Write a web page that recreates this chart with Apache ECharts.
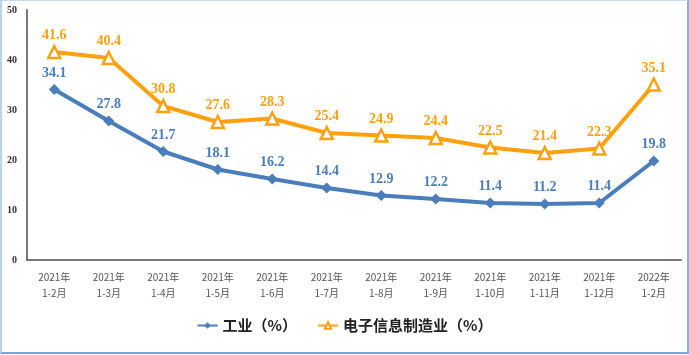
<!DOCTYPE html>
<html><head><meta charset="utf-8">
<script src="https://cdn.jsdelivr.net/npm/echarts@6/dist/echarts.min.js"></script>
<style>
html,body{margin:0;padding:0;background:#fff;}
#frame{position:absolute;left:0;top:0;width:685px;height:351px;border-left:2px solid #bcd3ee;border-top:1px solid #c5d9f1;border-right:2px solid #8eaedb;border-bottom:2px solid #7fa3d6;}
#c{position:absolute;left:0;top:0;width:689px;height:355px;}
</style></head>
<body><div id="frame"></div><div id="c"></div>
<script>
const categories = ['2021年\n1-2月','2021年\n1-3月','2021年\n1-4月','2021年\n1-5月','2021年\n1-6月','2021年\n1-7月','2021年\n1-8月','2021年\n1-9月','2021年\n1-10月','2021年\n1-11月','2021年\n1-12月','2022年\n1-2月'];
const industry = [34.1,27.8,21.7,18.1,16.2,14.4,12.9,12.2,11.4,11.2,11.4,19.8];
const electronics = [41.6,40.4,30.8,27.6,28.3,25.4,24.9,24.4,22.5,21.4,22.3,35.1];
const yTicks = [0,10,20,30,40,50];
const blue = '#4a7ebb', orange = '#ffa10f';
const chart = echarts.init(document.getElementById('c'));
chart.setOption({
  animation:false,
  grid:{left:27,right:8,top:10,bottom:95},
  legend:{bottom:17,left:'center',itemGap:20,itemWidth:20,itemHeight:8,
    textStyle:{fontFamily:'Noto Sans CJK SC',fontSize:15,color:'#222',fontWeight:'bold'},
    data:['工业（%）','电子信息制造业（%）']},
  xAxis:{type:'category',data:categories,boundaryGap:true,
    axisLine:{lineStyle:{color:'#777',width:2}},axisTick:{show:false},
    axisLabel:{color:'#555',fontSize:10,fontFamily:'Noto Sans CJK SC',lineHeight:16,margin:9}},
  yAxis:{type:'value',min:yTicks[0],max:yTicks[yTicks.length-1],interval:10,
    axisLine:{show:true,lineStyle:{color:'#777',width:2}},axisTick:{show:false},splitLine:{show:false},
    axisLabel:{color:'#333',fontSize:10,fontWeight:'bold',fontFamily:'Liberation Serif',margin:10}},
  series:[
    {name:'工业（%）',type:'line',data:industry,symbol:'diamond',symbolSize:11,
      lineStyle:{color:blue,width:4},itemStyle:{color:blue},
      label:{show:true,position:'top',distance:4,color:blue,fontSize:14,fontWeight:'bold',fontFamily:'Liberation Serif'}},
    {name:'电子信息制造业（%）',type:'line',data:electronics,symbol:'triangle',symbolSize:12,
      lineStyle:{color:orange,width:4},itemStyle:{color:'#fff',borderColor:orange,borderWidth:2.5},
      label:{show:true,position:'top',distance:2,color:orange,fontSize:14,fontWeight:'bold',fontFamily:'Liberation Serif'}}
  ]
});
</script></body></html>
